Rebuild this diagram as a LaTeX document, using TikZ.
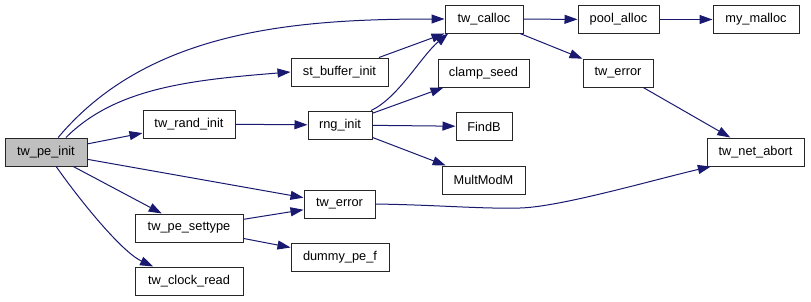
\documentclass[tikz,border=0pt]{standalone}
\usepackage{fontspec}
\setmainfont{Liberation Sans}
\usetikzlibrary{arrows.meta}
\definecolor{edgeblue}{HTML}{191970}
\definecolor{rootgray}{HTML}{BFBFBF}
\begin{document}
\begin{tikzpicture}[x=1pt,y=1pt,
  fn/.style={draw=black!85,line width=1pt,minimum height=28pt,inner sep=0pt,
    font=\fontsize{12.8}{14}\selectfont},
  call/.style={draw=edgeblue,line width=1pt,-{Triangle[length=13pt,width=9pt]}}]
\useasboundingbox (0,0) rectangle (811,301);
% functions
\node[fn,fill=rootgray,minimum width=82pt] (init) at (46,149) {tw\_pe\_init};
\node[fn,minimum width=92pt] (rand) at (189,177) {tw\_rand\_init};
\node[fn,minimum width=108pt] (settype) at (189,73) {tw\_pe\_settype};
\node[fn,minimum width=108pt] (clock) at (189,20) {tw\_clock\_read};
\node[fn,minimum width=97pt] (sbuf) at (339.5,229) {st\_buffer\_init};
\node[fn,minimum width=64pt] (rng) at (340,176) {rng\_init};
\node[fn,minimum width=71pt] (err) at (339.5,97) {tw\_error};
\node[fn,minimum width=98pt] (dummy) at (340,44) {dummy\_pe\_f};
\node[fn,minimum width=78pt] (calloc) at (484,282) {tw\_calloc};
\node[fn,minimum width=91pt] (clamp) at (483.5,228) {clamp\_seed};
\node[fn,minimum width=56pt] (findb) at (484,174.5) {FindB};
\node[fn,minimum width=83pt] (multm) at (483.5,121) {MultModM};
\node[fn,minimum width=81pt] (pool) at (618.5,281.5) {pool\_alloc};
\node[fn,minimum width=70pt] (err2) at (618,228) {tw\_error};
\node[fn,minimum width=86pt] (mymalloc) at (756,281.5) {my\_malloc};
\node[fn,minimum width=97pt] (abort) at (755.5,149) {tw\_net\_abort};
% calls
\draw[call] (init.50) .. controls +(50:140) and +(-150,0) .. (calloc.west);
\draw[call] (init.36) .. controls +(45:70) and +(-100,-8) .. (sbuf.west);
\draw[call] (init) -- (rand);
\draw[call] (init) -- (err);
\draw[call] (init) -- (settype);
\draw[call] (init.-55) .. controls +(-55:40) and +(155:35) .. (clock.158);
\draw[call] (rand) -- (rng);
\draw[call] (sbuf) -- (calloc);
\draw[call] (rng.25) .. controls +(25:30) and +(-140:35) .. (calloc.202);
\draw[call] (rng) -- (clamp);
\draw[call] (rng) -- (findb);
\draw[call] (rng) -- (multm);
\draw[call] (settype) -- (err);
\draw[call] (settype) -- (dummy);
\draw[call] (err.east) .. controls (440,96) and (480,92) .. (520,93)
  .. controls (560,94) and (653,121) .. (abort.198);
\draw[call] (calloc) -- (pool);
\draw[call] (calloc) -- (err2);
\draw[call] (pool) -- (mymalloc);
\draw[call] (err2) -- (abort);
\end{tikzpicture}
\end{document}
